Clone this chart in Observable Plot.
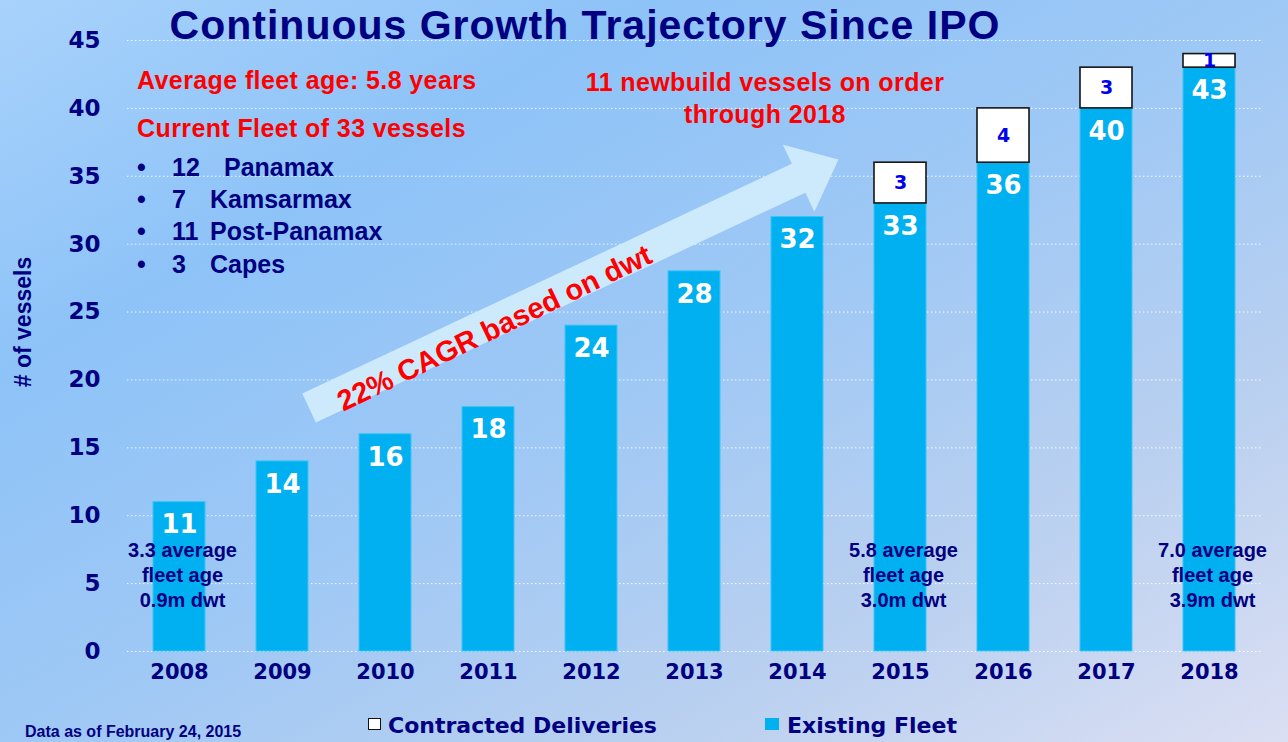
<!DOCTYPE html>
<html><head><meta charset="utf-8">
<script src="https://cdn.jsdelivr.net/npm/d3@7"></script>
<script src="https://cdn.jsdelivr.net/npm/@observablehq/plot@0.6"></script>
<style>
html,body{margin:0;padding:0;}
#wrap{position:relative;width:1288px;height:742px;overflow:hidden;
 background:linear-gradient(to bottom right,#a8d2fb 0%,#8ec3f8 25%,#9ec8f5 50%,#b9d0f0 75%,#dbdff3 100%);
 font-family:"Liberation Sans",Arial,sans-serif;font-weight:bold;}
#wrap svg{position:absolute;left:0;top:0;}
.abs{position:absolute;white-space:nowrap;}
.navy{color:#000080;}
.red{color:#ff0000;}
</style></head>
<body>
<div id="wrap"></div>
<script>
// ---- data ----
const years = ["2008","2009","2010","2011","2012","2013","2014","2015","2016","2017","2018"];
const existingFleet = [11,14,16,18,24,28,32,33,36,40,43];
const contractedDeliveries = [0,0,0,0,0,0,0,3,4,3,1];
const yTicks = [0,5,10,15,20,25,30,35,40,45];
const noteYears = ["2008","2015","2018"];
const noteTexts = ["3.3 average\nfleet age\n0.9m dwt","5.8 average\nfleet age\n3.0m dwt","7.0 average\nfleet age\n3.9m dwt"];
const fleetCounts = ["12","7","11","3"];
const fleetTypes = ["Panamax","Kamsarmax","Post-Panamax","Capes"];
const titleText = "Continuous Growth Trajectory Since IPO";
const cagrText = "22% CAGR based on dwt";
const cagrFrom = {year:"2009", value:17.9};
const cagrTo = {year:"2015", value:36.2};

const rows = years.map((year,i)=>({year, existing:existingFleet[i], contracted:contractedDeliveries[i]}));
const contractedRows = rows.filter(d=>d.contracted>0);
const notes = noteYears.map((year,i)=>({year, text:noteTexts[i]}));

const NAVY="#000080", CYAN="#00b0f0";
const W=1288,H=742,mL=127,mR=27,mT=40,mB=91,PI=0.5,PO=0.244;
const wide = "DejaVu Sans";

const chart = Plot.plot({
  width:W, height:H, marginLeft:mL, marginRight:mR, marginTop:mT, marginBottom:mB,
  style:{background:"transparent", overflow:"visible"},
  x:{type:"band", domain:years, paddingInner:PI, paddingOuter:PO, axis:null},
  y:{domain:[0,45], axis:null},
  marks:[
    Plot.ruleY(yTicks,{stroke:"white", strokeOpacity:0.9, strokeDasharray:"1.5,2.5", strokeWidth:1}),
    Plot.barY(rows,{x:"year", y:"existing", fill:CYAN, stroke:"#3cc4f5", strokeWidth:1}),
    Plot.barY(contractedRows,{x:"year", y1:"existing", y2:d=>d.existing+d.contracted, fill:"white", stroke:"#151515", strokeWidth:1.6}),
    Plot.text(rows,{x:"year", y:"existing", text:d=>String(d.existing), dy:23, fill:"white", fontSize:26, fontWeight:"bold", fontFamily:wide}),
    Plot.text(contractedRows,{x:"year", y:d=>d.existing+d.contracted/2, text:d=>String(d.contracted), fill:"#0000ee", fontSize:19, fontWeight:"bold", fontFamily:wide}),
    Plot.text(notes,{x:"year", y:()=>5.7, text:"text", dx:3, lineHeight:1.25, fill:NAVY, fontSize:20, fontWeight:"bold", fontFamily:"Liberation Sans"}),
    Plot.text(yTicks,{y:d=>d, frameAnchor:"left", dx:-27, textAnchor:"end", text:d=>String(d), fill:NAVY, fontSize:23, fontWeight:"bold", fontFamily:wide}),
    Plot.text(years,{x:d=>d, frameAnchor:"bottom", dy:27, text:d=>d, fill:NAVY, fontSize:21, fontWeight:"bold", fontFamily:wide})
  ]
});
const wrap = document.getElementById("wrap");
wrap.appendChild(chart);

// ---- CAGR arrow annotation, positioned through the same scales ----
const xb = d3.scaleBand(years,[mL,W-mR]).paddingInner(PI).paddingOuter(PO);
const yl = d3.scaleLinear([0,45],[H-mB,mT]);
const bw = xb.bandwidth();
const T = [xb(cagrFrom.year)+1.04*bw, yl(cagrFrom.value)];
const P = [xb(cagrTo.year)-0.7*bw, yl(cagrTo.value)];
const L = Math.hypot(P[0]-T[0], P[1]-T[1]);
const u = [(P[0]-T[0])/L,(P[1]-T[1])/L];
const n = [-u[1], u[0]];
const hw=16, hh=37, hl=44;
const B = [P[0]-u[0]*hl, P[1]-u[1]*hl];
const pt = (o,k)=>[o[0]+n[0]*k, o[1]+n[1]*k];
const poly = [pt(T,hw),pt(B,hw),pt(B,hh),P,pt(B,-hh),pt(B,-hw),pt(T,-hw)];
const g = d3.select(chart).append("g");
g.append("polygon").attr("points", poly.map(p=>p.join(",")).join(" ")).attr("fill","#cdeafd");
const ang = Math.atan2(u[1],u[0])*180/Math.PI - 0.6;
const s = 0.345*L;
const C = [T[0]+u[0]*s+n[0]*6, T[1]+u[1]*s+n[1]*6];
g.append("text").attr("transform",`translate(${C[0]},${C[1]}) rotate(${ang})`)
  .attr("text-anchor","middle").attr("dy","0.35em")
  .attr("fill","#ff0000").attr("font-family","Liberation Sans").attr("font-weight","bold").attr("font-size",29)
  .text(cagrText);

// ---- text overlays ----
function add(html, style, cls){
  const d=document.createElement("div"); d.className="abs "+(cls||""); d.style.cssText=style; d.innerHTML=html; wrap.appendChild(d); return d;
}
add(titleText,"left:585px;top:2px;transform:translateX(-50%);font-size:41px;line-height:46px;letter-spacing:1px;","navy");
add("Average fleet age: 5.8 years","left:137px;top:65px;font-size:25px;line-height:30px;letter-spacing:0.4px;","red");
add("Current Fleet of 33 vessels","left:137px;top:113px;font-size:25px;line-height:30px;letter-spacing:0.4px;","red");
add("11 newbuild vessels on order<br>through 2018","left:765px;top:66px;transform:translateX(-50%);text-align:center;font-size:25px;line-height:32px;letter-spacing:0.4px;","red");
const rowTops=[152,184,216,249];
fleetCounts.forEach((c,i)=>{
  add("•","left:137px;top:"+rowTops[i]+"px;font-size:25px;line-height:30px;","navy");
  const nameLeft = (c==="12")?224:210;
  add(c,"left:172px;top:"+rowTops[i]+"px;font-size:25px;line-height:30px;","navy");
  add(fleetTypes[i],"left:"+nameLeft+"px;top:"+rowTops[i]+"px;font-size:25px;line-height:30px;","navy");
});
add("# of vessels","left:23px;top:322px;transform:translate(-50%,-50%) rotate(-90deg);font-size:23px;line-height:28px;","navy");
add("Data as of February 24, 2015","left:25px;top:722px;font-size:16px;line-height:20px;","navy");
add("","left:368px;top:718px;width:11px;height:10px;background:#fff;border:1.5px solid #111;");
add("Contracted Deliveries","left:388px;top:712px;font-family:'DejaVu Sans';font-size:22px;line-height:28px;","navy");
add("","left:765px;top:718px;width:14px;height:12px;background:"+CYAN+";");
add("Existing Fleet","left:787px;top:712px;font-family:'DejaVu Sans';font-size:22px;line-height:28px;","navy");
</script>
</body></html>
